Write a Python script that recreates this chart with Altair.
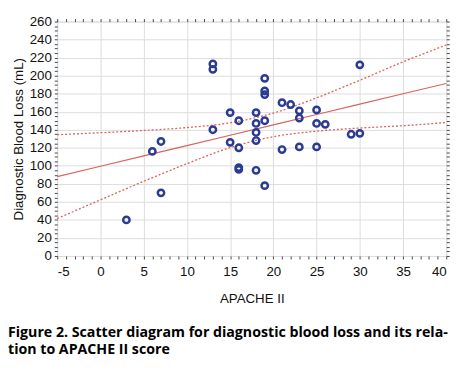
import altair as alt
import pandas as pd

# ---- data ----
apache = [3, 6, 7, 7, 13, 13, 13, 15, 15, 16, 16, 16, 16, 18, 18, 18, 18, 18,
          19, 19, 19, 19, 19, 21, 22, 21, 23, 23, 23, 25, 25, 26, 25, 29, 30, 30]
blood_loss = [40, 116, 127, 70, 213, 207, 140, 159, 126, 150, 120, 98, 96, 159, 147, 137, 128, 95,
              197, 183, 179, 150, 78, 170, 168, 118, 161, 153, 121, 162, 147, 146, 121, 135, 136, 212]

fit_x = [-5, 0, 5, 10, 15, 20, 25, 30, 35, 40]
fit_y = [88, 99.5, 111, 122.4, 133.9, 145.4, 156.9, 168.4, 179.9, 191.3]
upper_ci = [134.5, 136.7, 139.2, 142.4, 147.7, 158.5, 175.4, 194.9, 215.3, 234]
lower_ci = [41.5, 62.3, 82.8, 102.4, 120.1, 132.3, 138.4, 141.9, 144.5, 148]

x_minor = list(range(-5, 41))
y_minor = list(range(0, 261, 5))

caption = ["Figure 2. Scatter diagram for diagnostic blood loss and its rela-",
           "tion to APACHE II score"]

BLUE = "#2b3b91"
RED = "#d9645c"
FONT = "Liberation Sans"

pts = pd.DataFrame({"apache": apache, "loss": blood_loss})
fit = pd.DataFrame({"apache": fit_x, "fit": fit_y, "upper": upper_ci, "lower": lower_ci})

xscale = alt.Scale(domain=[-5, 40], nice=False, zero=False)
yscale = alt.Scale(domain=[0, 260], nice=False, zero=True)

x_bottom = alt.Axis(
    orient="bottom", values=x_minor, domain=False, tickSize=3, tickColor="#444",
    labelExpr="datum.value % 5 === 0 ? '' + datum.value : ''",
    grid=True, gridColor="#dcdcdc",
    gridOpacity={"condition": {"test": "datum.value % 5 === 0", "value": 1}, "value": 0},
    labelFont=FONT, labelFontSize=13.5, labelColor="#111", labelPadding=6,
    title="APACHE II", titleFont=FONT, titleFontSize=13.5, titleFontWeight="normal",
    titleColor="#111", titlePadding=14,
)
y_left = alt.Axis(
    orient="left", values=y_minor, domain=False, tickSize=3, tickColor="#444",
    labelExpr="datum.value % 20 === 0 ? '' + datum.value : ''",
    grid=True, gridColor="#dcdcdc",
    gridOpacity={"condition": {"test": "datum.value % 20 === 0", "value": 1}, "value": 0},
    labelFont=FONT, labelFontSize=13.5, labelColor="#111", labelPadding=3,
    title="Diagnostic Blood Loss (mL)", titleFont=FONT, titleFontSize=13.5,
    titleFontWeight="normal", titleColor="#111", titlePadding=4,
)
x_top = alt.Axis(orient="top", values=x_minor, domain=False, tickSize=3, tickColor="#444",
                 labels=False, grid=False, title=None)
y_right = alt.Axis(orient="right", values=y_minor, domain=False, tickSize=3, tickColor="#444",
                   labels=False, grid=False, title=None)

fit_line = alt.Chart(fit).mark_line(color=RED, strokeWidth=1.2).encode(
    x=alt.X("apache:Q", scale=xscale, axis=x_top),
    y=alt.Y("fit:Q", scale=yscale, axis=y_right),
)
up_line = alt.Chart(fit).mark_line(color=RED, strokeWidth=1.3, strokeDash=[2, 2],
                                   interpolate="monotone").encode(
    x=alt.X("apache:Q", scale=xscale, axis=None),
    y=alt.Y("upper:Q", scale=yscale, axis=None),
)
lo_line = alt.Chart(fit).mark_line(color=RED, strokeWidth=1.3, strokeDash=[2, 2],
                                   interpolate="monotone").encode(
    x=alt.X("apache:Q", scale=xscale, axis=None),
    y=alt.Y("lower:Q", scale=yscale, axis=None),
)
points = alt.Chart(pts).mark_point(shape="circle", filled=False, size=42, strokeWidth=2.5,
                                   color=BLUE, opacity=1).encode(
    x=alt.X("apache:Q", scale=xscale, axis=x_bottom),
    y=alt.Y("loss:Q", scale=yscale, axis=y_left),
)

chart = alt.layer(fit_line, up_line, lo_line, points).resolve_axis(
    x="independent", y="independent"
).properties(
    width=395, height=238,
    autosize=alt.AutoSizeParams(type="none"),
    padding={"left": 50, "top": 11, "right": 18, "bottom": 112},
    title=alt.TitleParams(
        text=caption, orient="bottom", anchor="start", frame="group", dx=-50, offset=21,
        font="Open Sans", fontWeight="bold", fontSize=14.4, color="#000", lineHeight=18,
    ),
).configure_view(stroke="#222", strokeWidth=1).configure(background="white")

chart.save("out.html", embed_options={"renderer": "svg", "actions": False})
